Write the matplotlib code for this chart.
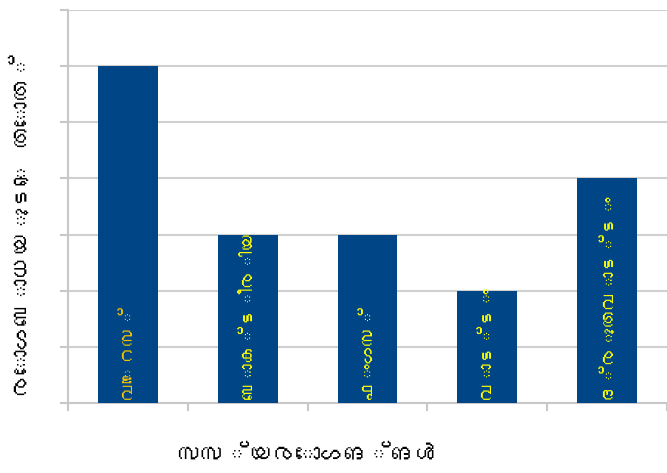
import matplotlib
matplotlib.use("Agg")
import matplotlib.pyplot as plt
from matplotlib import font_manager
from fontTools.ttLib import TTFont

# Data
diseases = ["വൈറസ്", "ബാക്ടീരിയ", "ഫംഗസ്", "വാട്ടം", "ദ്രുതവാട്ടം"]
severity = [6, 3, 3, 2, 4]
label_colors = ["#f2c200", "#ffff00", "#ffff00", "#ffff00", "#ffff00"]
x_title = "സസ്യരോഗങ്ങൾ"
y_title = "രോഗബാധയുടെ തോത്"


def find_malayalam_font():
    for path in font_manager.findSystemFonts():
        try:
            f = TTFont(path, fontNumber=0, lazy=True)
            cmap = f.getBestCmap()
            if cmap and 0x0D2E in cmap:
                return font_manager.FontProperties(fname=path).get_name()
        except Exception:
            continue
    return None


ml_font = find_malayalam_font()
families = [ml_font, "DejaVu Sans"] if ml_font else ["DejaVu Sans"]
plt.rcParams["font.family"] = families

fig = plt.figure(figsize=(6.67, 4.73), dpi=100)
ax = fig.add_axes([68 / 667, 70 / 473, 599 / 667, 393 / 473])

pos = range(len(diseases))
ax.bar(pos, severity, width=0.5, color="#004586", zorder=3)

for i, (name, c) in enumerate(zip(diseases, label_colors)):
    ax.text(i, 0.08, name, rotation=90, ha="center", va="bottom",
            color=c, fontsize=13.5, zorder=4)

ax.set_xlim(-0.5, len(diseases) - 0.5)
ax.set_ylim(0, 7)
ax.set_yticks(range(0, 8))
ax.set_yticklabels([])
ax.set_xticks([i - 0.5 for i in range(len(diseases) + 1)])
ax.set_xticklabels([])
ax.tick_params(axis="y", length=6, width=1.5, color="#c8c8c8")
ax.tick_params(axis="x", length=6, width=1.5, color="#c8c8c8")
ax.grid(axis="y", color="#d0d0d0", linewidth=1.5, zorder=0)

for side in ["top", "right"]:
    ax.spines[side].set_visible(False)
for side in ["left", "bottom"]:
    ax.spines[side].set_color("#c8c8c8")
    ax.spines[side].set_linewidth(1.5)

fig.text(308 / 667, 1 - 455 / 473, x_title, ha="center", va="center", fontsize=17)
fig.text(22 / 667, 1 - 226 / 473, y_title, ha="center", va="center",
         rotation=90, fontsize=17)

fig.savefig("out.png", dpi=100)
